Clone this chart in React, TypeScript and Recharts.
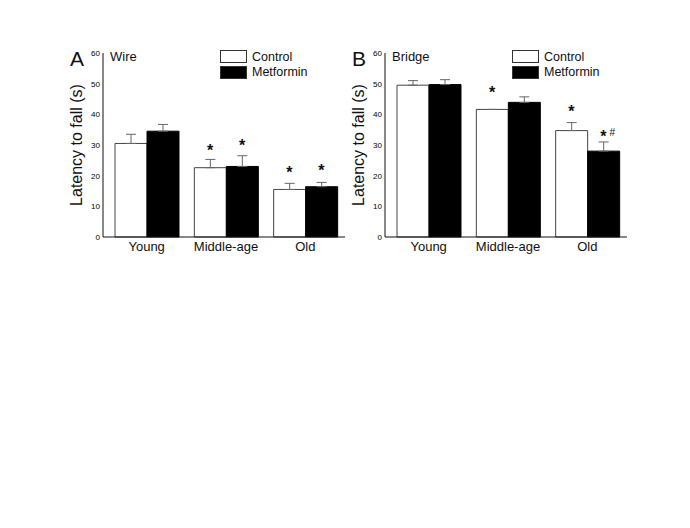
import React from 'react';
import { BarChart, Bar, XAxis, YAxis, ErrorBar, ReferenceDot, Legend } from 'recharts';

const categories = ['Young', 'Middle-age', 'Old'];
const yTicks = [0, 10, 20, 30, 40, 50, 60];

// Wire test
const wireControl = [30.5, 22.6, 15.5];
const wireControlErr = [3.0, 2.7, 2.0];
const wireMetformin = [34.5, 23.0, 16.4];
const wireMetforminErr = [2.2, 3.5, 1.4];
const wireControlStar = [null, 29.4, 22.1];
const wireMetforminStar = [null, 31.1, 22.7];
const wireMetforminMark = ['', '*', '*'];

// Bridge test
const bridgeControl = [49.5, 41.6, 34.7];
const bridgeControlErr = [1.5, 0, 2.6];
const bridgeMetformin = [49.7, 43.9, 28.0];
const bridgeMetforminErr = [1.6, 1.8, 3.0];
const bridgeControlStar = [null, 48.4, 42.2];
const bridgeMetforminStar = [null, null, 34.0];
const bridgeMetforminMark = ['', '', '*#'];

const FONT = '"Liberation Sans", Arial, sans-serif';

const buildRows = (ctl: number[], ctlErr: number[], met: number[], metErr: number[]) =>
    categories.map((name, i) => ({
        name,
        control: ctl[i],
        controlErr: [0, ctlErr[i]],
        metformin: met[i],
        metforminErr: [0, metErr[i]],
    }));

const starShape = (dx: number, mark: string) => (props: any) => {
    const x = props.cx + dx;
    const y = props.cy;
    if (mark === '*#') {
        return (
            <g>
                <text x={x} y={y + 9} textAnchor="middle" fontSize={16} fontWeight="bold" fontFamily={FONT} fill="#111">*</text>
                <text x={x + 9} y={y + 3} textAnchor="middle" fontSize={10} fontFamily={FONT} fill="#111">#</text>
            </g>
        );
    }
    return <text x={x} y={y + 9} textAnchor="middle" fontSize={16} fontWeight="bold" fontFamily={FONT} fill="#111">*</text>;
};

const LegendBoxes = ({ payload }: any) => (
    <div style={{ fontFamily: FONT, fontSize: 12.5, color: '#111' }}>
        {(payload || []).map((p: any) => (
            <div key={p.value} style={{ display: 'flex', alignItems: 'center', height: 15.5 }}>
                <div style={{ width: 27, height: 13, boxSizing: 'border-box', background: p.color, border: '1px solid #333', marginRight: 5 }} />
                <span>{p.value}</span>
            </div>
        ))}
    </div>
);

interface PanelProps {
    left: number;
    letter: string;
    title: string;
    legendLeft: number;
    rows: any[];
    controlStar: (number | null)[];
    metforminStar: (number | null)[];
    metforminMark: string[];
}

function Panel({ left, letter, title, legendLeft, rows, controlStar, metforminStar, metforminMark }: PanelProps) {
    return (
        <div style={{ position: 'absolute', left, top: 40, width: 295, height: 227 }}>
            <div style={{ position: 'absolute', left: 10, top: 8, fontFamily: FONT, fontSize: 21, color: '#111', lineHeight: 1 }}>{letter}</div>
            <div style={{ position: 'absolute', left: 17, top: 105, transform: 'translate(-50%, -50%) rotate(-90deg)', fontFamily: FONT, fontSize: 16, color: '#111', whiteSpace: 'nowrap' }}>
                Latency to fall (s)
            </div>
            <div style={{ position: 'absolute', left: 50, top: 9, fontFamily: FONT, fontSize: 13, color: '#111' }}>{title}</div>
            <BarChart width={295} height={227} data={rows} margin={{ top: 13, right: 10, left: 0, bottom: 5 }} barGap={0}>
                <XAxis
                    dataKey="name"
                    interval={0}
                    padding={{ left: 4, right: 0 }}
                    axisLine={{ stroke: '#111' }}
                    tickLine={false}
                    tickSize={0}
                    tickMargin={5}
                    tick={{ fontSize: 13, fill: '#111', fontFamily: FONT }}
                    height={25}
                />
                <YAxis
                    domain={[0, 60]}
                    ticks={yTicks}
                    interval={0}
                    width={43}
                    axisLine={{ stroke: '#111' }}
                    tickLine={false}
                    tickSize={0}
                    tickMargin={3}
                    tick={{ fontSize: 8, fill: '#000', fontFamily: FONT }}
                />
                <Legend
                    layout="vertical"
                    align="center"
                    verticalAlign="middle"
                    wrapperStyle={{ left: legendLeft, top: 9, width: 110 }}
                    content={LegendBoxes}
                />
                <Bar dataKey="control" name="Control" fill="#ffffff" stroke="#444" strokeWidth={1} barSize={32} isAnimationActive={false}>
                    <ErrorBar dataKey="controlErr" width={5} stroke="#666" strokeWidth={1} direction="y" />
                </Bar>
                <Bar dataKey="metformin" name="Metformin" fill="#000000" stroke="#000" strokeWidth={1} barSize={32} isAnimationActive={false}>
                    <ErrorBar dataKey="metforminErr" width={5} stroke="#666" strokeWidth={1} direction="y" />
                </Bar>
                {categories.map((c, i) =>
                    controlStar[i] != null ? (
                        <ReferenceDot key={'c' + c} x={c} y={controlStar[i] as number} r={0} shape={starShape(-16, '*')} />
                    ) : null
                )}
                {categories.map((c, i) =>
                    metforminStar[i] != null ? (
                        <ReferenceDot key={'m' + c} x={c} y={metforminStar[i] as number} r={0} shape={starShape(16, metforminMark[i])} />
                    ) : null
                )}
            </BarChart>
        </div>
    );
}

export default function App() {
    const wireRows = buildRows(wireControl, wireControlErr, wireMetformin, wireMetforminErr);
    const bridgeRows = buildRows(bridgeControl, bridgeControlErr, bridgeMetformin, bridgeMetforminErr);
    return (
        <div style={{ position: 'absolute', left: 0, top: 0, width: 690, height: 528, background: '#fff' }}>
            <Panel left={60} letter="A" title="Wire" legendLeft={160} rows={wireRows}
                controlStar={wireControlStar} metforminStar={wireMetforminStar} metforminMark={wireMetforminMark} />
            <Panel left={342} letter="B" title="Bridge" legendLeft={170} rows={bridgeRows}
                controlStar={bridgeControlStar} metforminStar={bridgeMetforminStar} metforminMark={bridgeMetforminMark} />
        </div>
    );
}
